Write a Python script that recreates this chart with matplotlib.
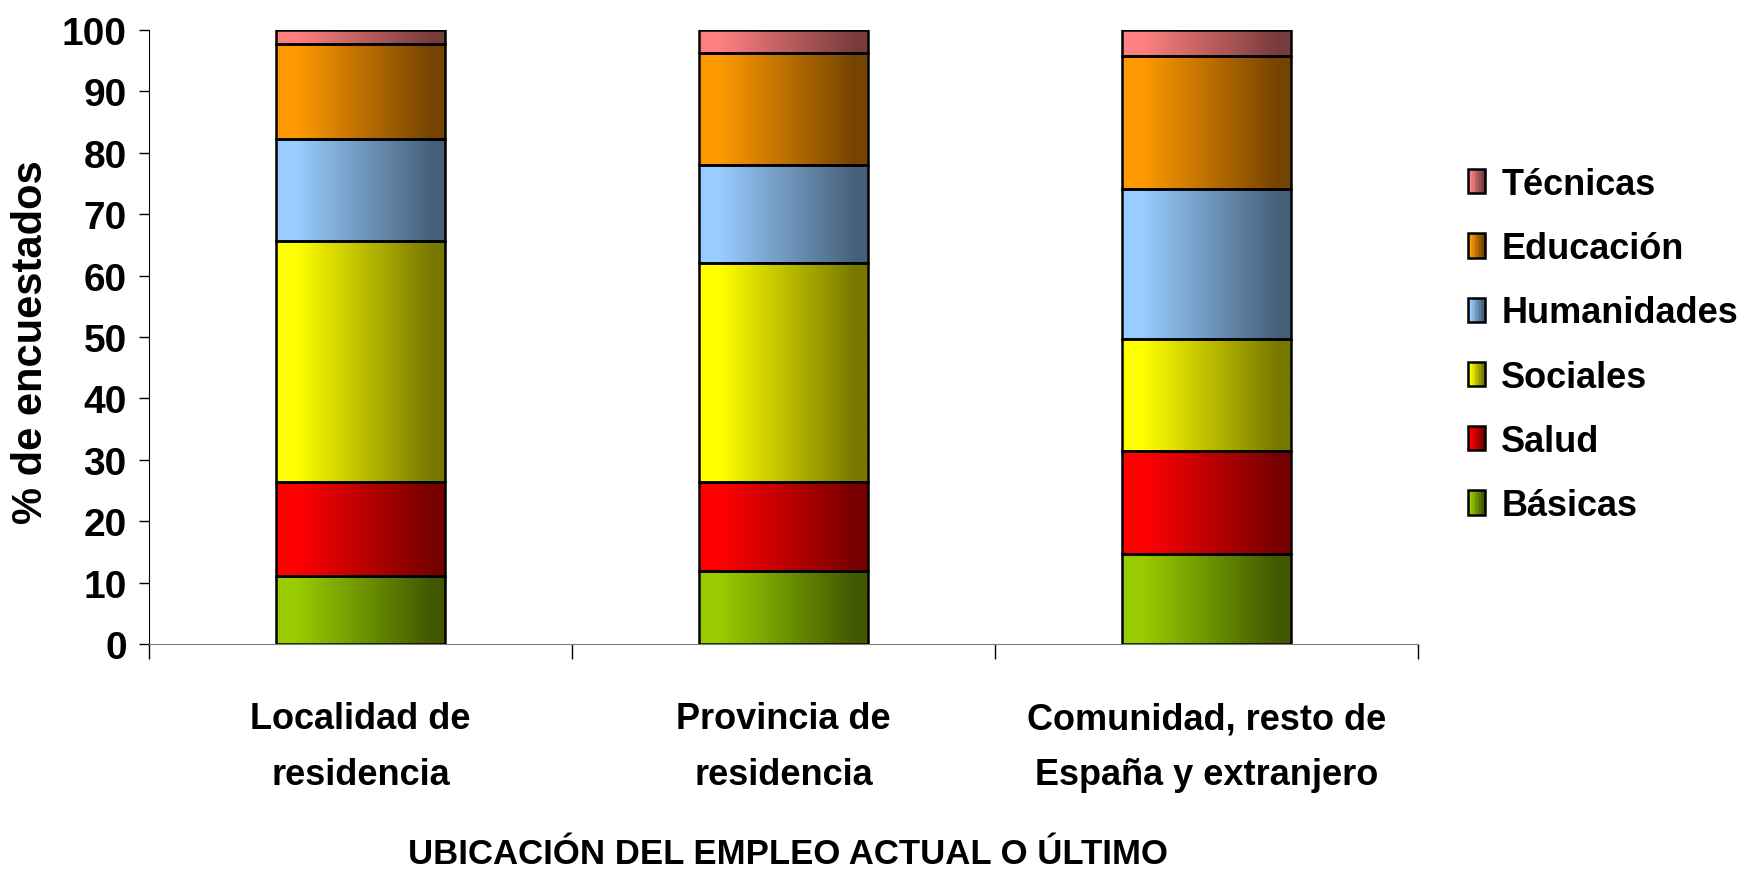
import numpy as np
import matplotlib
matplotlib.use("Agg")
import matplotlib.pyplot as plt
from matplotlib.colors import to_rgb
from matplotlib.legend_handler import HandlerBase
from matplotlib.patches import Rectangle

categories = ["Localidad de\nresidencia", "Provincia de\nresidencia",
              "Comunidad, resto de\nEspaña y extranjero"]
series_names = ["Básicas", "Salud", "Sociales", "Humanidades", "Educación", "Técnicas"]
basicas = [11.0, 11.9, 14.7]
salud = [15.4, 14.5, 16.8]
sociales = [39.2, 35.7, 18.2]
humanidades = [16.7, 15.9, 24.4]
educacion = [15.4, 18.2, 21.6]
tecnicas = [2.3, 3.8, 4.3]
yticks = list(range(0, 101, 10))
xlabel = "UBICACIÓN DEL EMPLEO ACTUAL O ÚLTIMO"
ylabel = "% de encuestados"

series_values = [basicas, salud, sociales, humanidades, educacion, tecnicas]
bright = ["#99CC00", "#FF0000", "#FFFF00", "#99CCFF", "#FF9900", "#FF8080"]
dark = ["#405800", "#780000", "#787800", "#46607A", "#754400", "#783C3C"]

NARROW = ["Liberation Sans Narrow", "Liberation Sans", "DejaVu Sans"]
REG = ["Liberation Sans", "DejaVu Sans"]


def grad_profile(n=256):
    t = np.linspace(0, 1, n)
    return np.clip((t - 0.12) / (0.92 - 0.12), 0, 1)


def grad_img(c0, c1):
    p = grad_profile()[:, None]
    a = np.array(to_rgb(c0))[None, :]
    b = np.array(to_rgb(c1))[None, :]
    return (a * (1 - p) + b * p)[None, :, :]


fig = plt.figure(figsize=(17.44, 8.70), dpi=100)
ax = fig.add_axes([149 / 1744, 1 - 645 / 870, (1418 - 149) / 1744, (645 - 31) / 870])

x = np.arange(len(categories))
width = 0.40
bottom = np.zeros(len(categories))
for vals, c0, c1, name in zip(series_values, bright, dark, series_names):
    bars = ax.bar(x, vals, width, bottom=bottom, facecolor="none",
                  edgecolor="black", linewidth=1.8, zorder=3, label=name)
    img = grad_img(c0, c1)
    for patch in bars.patches:
        x0, y0 = patch.get_x(), patch.get_y()
        w, h = patch.get_width(), patch.get_height()
        im = ax.imshow(img, extent=[x0, x0 + w, y0, y0 + h], aspect="auto",
                       origin="lower", zorder=2, interpolation="bilinear")
        im.set_clip_path(patch)
    bottom = bottom + np.array(vals)

ax.set_xlim(-0.5, len(categories) - 0.5)
ax.set_ylim(0, 100)
ax.set_yticks(yticks)
ax.set_yticklabels([str(v) for v in yticks], fontfamily=REG, fontweight="bold", fontsize=28)
ax.set_xticks(np.arange(-0.5, len(categories), 1.0))
ax.set_xticklabels([])
ax.tick_params(axis="y", length=7, width=1, pad=9, color="black")
ax.tick_params(axis="x", length=11, width=1, color="black")
for s in ["top", "right"]:
    ax.spines[s].set_visible(False)
ax.spines["left"].set_color("black")
ax.spines["bottom"].set_color("#808080")
ax.spines["left"].set_bounds(0, 100)

for xi, lab in zip(x, categories):
    ax.text(xi, -16.7, lab, ha="center", va="center", fontfamily=NARROW,
            fontweight="bold", fontsize=26, linespacing=1.75,
            transform=ax.transData)

fig.text(788 / 1744, 1 - 855 / 870, xlabel, ha="center", va="center",
         fontfamily=NARROW, fontweight="bold", fontsize=25)
fig.text(31 / 1744, 1 - 342 / 870, ylabel, ha="center", va="center",
         rotation=90, fontfamily=REG, fontweight="bold", fontsize=30)


class GradHandler(HandlerBase):
    def __init__(self, c0, c1):
        super().__init__()
        self.c0, self.c1 = c0, c1

    def create_artists(self, legend, orig_handle, xdescent, ydescent,
                       width, height, fontsize, trans):
        arts = []
        n = 12
        img = grad_img(self.c0, self.c1)[0]
        idx = np.linspace(0, len(img) - 1, n).astype(int)
        for i in range(n):
            r = Rectangle((-xdescent + width * i / n, -ydescent), width / n + 0.3,
                          height, facecolor=img[idx[i]], edgecolor="none",
                          transform=trans)
            arts.append(r)
        arts.append(Rectangle((-xdescent, -ydescent), width, height,
                              facecolor="none", edgecolor="black", linewidth=1.8,
                              transform=trans))
        return arts


handles, labels = ax.get_legend_handles_labels()
hmap = {h: GradHandler(c0, c1) for h, c0, c1 in zip(handles, bright, dark)}
leg = fig.legend(handles[::-1], labels[::-1], handler_map=hmap,
                 loc="center left", bbox_to_anchor=(1468 / 1744, 1 - 346 / 870),
                 frameon=False, borderpad=0, borderaxespad=0,
                 handlelength=0.47, handleheight=0.66, handletextpad=0.45,
                 labelspacing=0.81,
                 prop={"family": REG, "weight": "bold", "size": 26})

fig.savefig("out.png", dpi=100)
